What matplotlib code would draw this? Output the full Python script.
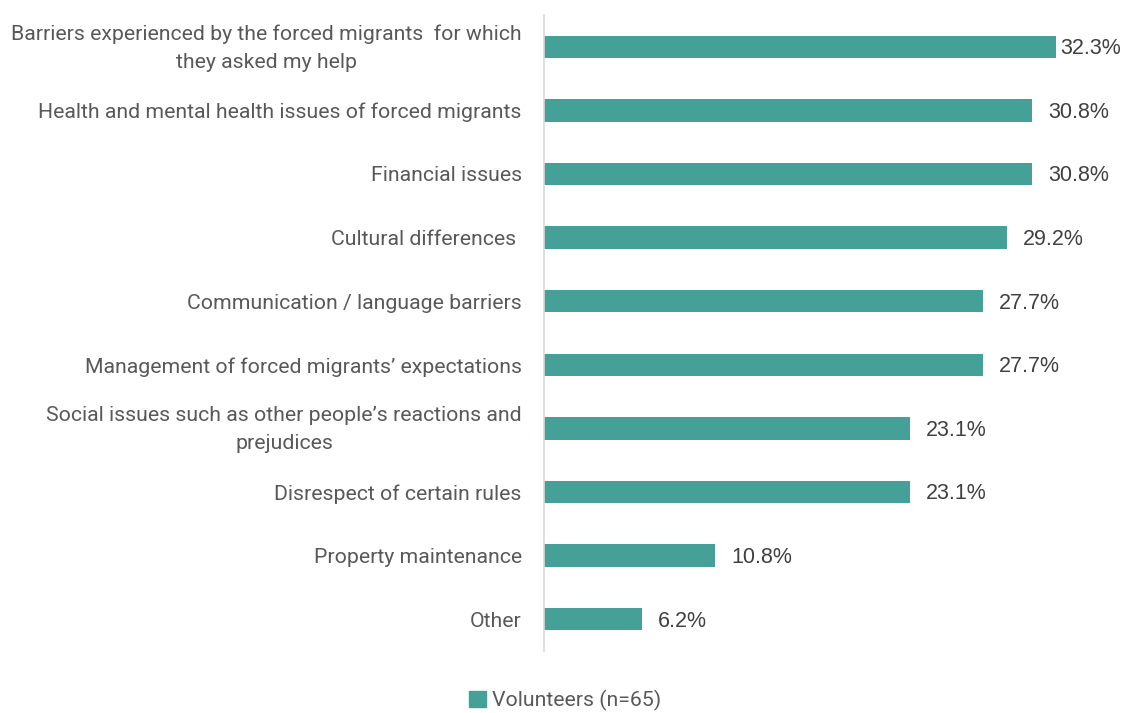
import matplotlib.pyplot as plt
import matplotlib.transforms as mtransforms
from matplotlib.patches import Patch

categories = [
    "Barriers experienced by the forced migrants  for which\nthey asked my help",
    "Health and mental health issues of forced migrants",
    "Financial issues",
    "Cultural differences ",
    "Communication / language barriers",
    "Management of forced migrants\u2019 expectations",
    "Social issues such as other people\u2019s reactions and\nprejudices",
    "Disrespect of certain rules",
    "Property maintenance",
    "Other",
]
values = [32.3, 30.8, 30.8, 29.2, 27.7, 27.7, 23.1, 23.1, 10.8, 6.2]
series_name = "Volunteers (n=65)"

bar_color = "#45A098"
text_color = "#595959"

plt.rcParams['font.family'] = ['Roboto', 'DejaVu Sans']

fig = plt.figure(figsize=(11.23, 7.13), dpi=100)
ax = fig.add_axes([0.4844, 0.087, 0.494, 0.892])

pos = list(range(len(categories)))
ax.barh(pos, values, height=0.35, color=bar_color)
ax.set_ylim(len(categories) - 0.5, -0.5)
ax.set_xlim(0, 35)

ax.set_yticks(pos)
ax.set_yticklabels(categories, fontsize=15.3, color=text_color, ha='right',
                   multialignment='center', linespacing=1.58)
ax.tick_params(axis='y', length=0, pad=16)
ax.set_xticks([])

# two-line labels sit a bit high in the original
shift = mtransforms.ScaledTranslation(0, 5 / 100, fig.dpi_scale_trans)
for lbl in ax.get_yticklabels():
    if "\n" in lbl.get_text():
        lbl.set_transform(lbl.get_transform() + shift)

for s in ['top', 'right', 'bottom']:
    ax.spines[s].set_visible(False)
ax.spines['left'].set_color('#D9D9D9')
ax.spines['left'].set_linewidth(1.2)

vmax = max(values)
for p, v in zip(pos, values):
    off = 0.25 if v == vmax else 1.0
    ax.text(v + off, p + 0.03, f"{v:.1f}%", va='center', ha='left',
            fontsize=15.5, color='#404040', family='Liberation Sans')

fig.legend(handles=[Patch(color=bar_color)], labels=[series_name],
           loc='center', bbox_to_anchor=(0.503, 0.018), frameon=False,
           fontsize=15.3, labelcolor=text_color, handlelength=0.8,
           handleheight=0.8, handletextpad=0.3, borderpad=0.1)

fig.savefig("out.png", dpi=100)
